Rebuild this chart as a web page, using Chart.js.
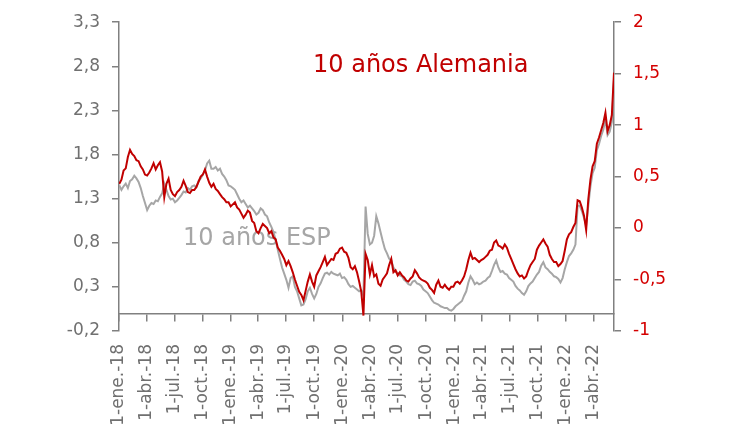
<!DOCTYPE html>
<html>
<head>
<meta charset="utf-8">
<script src="https://cdn.jsdelivr.net/npm/chart.js@4/dist/chart.umd.min.js"></script>
<style>
  body { margin: 0; background: #fff; }
</style>
</head>
<body>
<canvas id="bonosChart" width="731" height="444"></canvas>
<script>
// Rentabilidad del bono a 10 años, un dato por semana desde el 2-ene-2018
var inicio = Date.UTC(2018, 0, 1);
var diaFinal = 1618;

// Alemania (eje derecho)
var ale = [
  0.43, 0.47, 0.56, 0.58, 0.69, 0.76, 0.72, 0.70, 0.66, 0.65,
  0.60, 0.57, 0.52, 0.51, 0.54, 0.58, 0.63, 0.57, 0.61, 0.64,
  0.55, 0.30, 0.43, 0.48, 0.37, 0.33, 0.31, 0.35, 0.37, 0.40,
  0.46, 0.41, 0.35, 0.34, 0.37, 0.37, 0.40, 0.45, 0.50, 0.52,
  0.57, 0.50, 0.44, 0.40, 0.43, 0.38, 0.36, 0.33, 0.30, 0.28,
  0.25, 0.25, 0.21, 0.23, 0.25, 0.20, 0.18, 0.14, 0.10, 0.13,
  0.17, 0.15, 0.07, 0.05, -0.03, -0.05, 0.00, 0.04, 0.02, 0.00,
  -0.05, -0.03, -0.09, -0.11, -0.19, -0.22, -0.26, -0.30, -0.36, -0.32,
  -0.37, -0.43, -0.50, -0.56, -0.62, -0.65, -0.70, -0.61, -0.52, -0.45,
  -0.52, -0.57, -0.46, -0.42, -0.38, -0.33, -0.28, -0.36, -0.33, -0.30,
  -0.31, -0.25, -0.24, -0.20, -0.19, -0.23, -0.24, -0.29, -0.38, -0.40,
  -0.37, -0.43, -0.52, -0.62, -0.85, -0.25, -0.31, -0.45, -0.36, -0.47,
  -0.45, -0.54, -0.56, -0.50, -0.47, -0.44, -0.36, -0.30, -0.43, -0.41,
  -0.46, -0.43, -0.46, -0.48, -0.51, -0.52, -0.49, -0.47, -0.41, -0.44,
  -0.48, -0.50, -0.51, -0.52, -0.54, -0.58, -0.60, -0.63, -0.55, -0.51,
  -0.57, -0.58, -0.55, -0.58, -0.60, -0.57, -0.57, -0.53, -0.52, -0.54,
  -0.51, -0.47, -0.40, -0.31, -0.24, -0.30, -0.29, -0.31, -0.33, -0.31,
  -0.30, -0.28, -0.26, -0.22, -0.21, -0.14, -0.12, -0.17, -0.18, -0.20,
  -0.16, -0.19, -0.25, -0.30, -0.35, -0.40, -0.44, -0.47, -0.46, -0.49,
  -0.47, -0.41, -0.36, -0.33, -0.30, -0.21, -0.17, -0.14, -0.11, -0.15,
  -0.18, -0.26, -0.30, -0.33, -0.33, -0.37, -0.35, -0.32, -0.22, -0.11,
  -0.06, -0.04, 0.01, 0.05, 0.27, 0.26, 0.20, 0.12, -0.02, 0.28,
  0.47, 0.60, 0.65, 0.82, 0.88, 0.95, 1.02, 1.12, 0.94, 1.00,
  1.10, 1.51
];

// España (eje izquierdo)
var esp = [
  1.45, 1.40, 1.44, 1.47, 1.42, 1.50, 1.52, 1.56, 1.53, 1.49,
  1.42, 1.33, 1.25, 1.17, 1.22, 1.25, 1.24, 1.28, 1.27, 1.32,
  1.36, 1.47, 1.40, 1.33, 1.29, 1.30, 1.26, 1.28, 1.31, 1.34,
  1.38, 1.37, 1.42, 1.40, 1.44, 1.45, 1.43, 1.50, 1.53, 1.57,
  1.62, 1.70, 1.73, 1.64, 1.64, 1.66, 1.62, 1.64, 1.58, 1.55,
  1.51, 1.45, 1.44, 1.42, 1.40, 1.35, 1.30, 1.26, 1.28, 1.24,
  1.20, 1.22, 1.19, 1.16, 1.12, 1.14, 1.19, 1.17, 1.12, 1.10,
  1.03, 0.98, 0.92, 0.83, 0.72, 0.62, 0.52, 0.45, 0.38, 0.29,
  0.40, 0.42, 0.30, 0.25, 0.17, 0.09, 0.10, 0.16, 0.25, 0.29,
  0.22, 0.17, 0.22, 0.30, 0.34, 0.40, 0.45, 0.46, 0.44, 0.47,
  0.45, 0.44, 0.43, 0.45, 0.40, 0.41, 0.38, 0.33, 0.30, 0.31,
  0.29, 0.27, 0.25, 0.26, 0.20, 1.21, 0.90, 0.78, 0.80, 0.88,
  1.10, 1.02, 0.92, 0.82, 0.73, 0.68, 0.62, 0.60, 0.52, 0.47,
  0.46, 0.43, 0.42, 0.38, 0.36, 0.33, 0.32, 0.36, 0.37, 0.34,
  0.33, 0.31, 0.27, 0.25, 0.23, 0.19, 0.15, 0.12, 0.11, 0.10,
  0.08, 0.07, 0.06, 0.06, 0.04, 0.03, 0.05, 0.08, 0.10, 0.12,
  0.14, 0.20, 0.25, 0.35, 0.42, 0.38, 0.33, 0.35, 0.33, 0.34,
  0.36, 0.37, 0.40, 0.42, 0.48, 0.55, 0.60, 0.52, 0.47, 0.48,
  0.45, 0.44, 0.40, 0.38, 0.36, 0.31, 0.28, 0.26, 0.23, 0.21,
  0.25, 0.31, 0.34, 0.36, 0.40, 0.44, 0.47, 0.54, 0.58, 0.52,
  0.50, 0.47, 0.45, 0.42, 0.41, 0.39, 0.35, 0.40, 0.50, 0.58,
  0.65, 0.68, 0.72, 0.78, 1.22, 1.22, 1.16, 1.08, 1.00, 1.22,
  1.44, 1.59, 1.65, 1.85, 1.92, 2.01, 2.08, 2.20, 2.02, 2.06,
  2.17, 2.65
];

var etiquetas = [
  '1-ene.-18', '1-abr.-18', '1-jul.-18', '1-oct.-18',
  '1-ene.-19', '1-abr.-19', '1-jul.-19', '1-oct.-19',
  '1-ene.-20', '1-abr.-20', '1-jul.-20', '1-oct.-20',
  '1-ene.-21', '1-abr.-21', '1-jul.-21', '1-oct.-21',
  '1-ene.-22', '1-abr.-22'
];
var ticksIzq = [-0.2, 0.3, 0.8, 1.3, 1.8, 2.3, 2.8, 3.3];
var ticksDer = [-1, -0.5, 0, 0.5, 1, 1.5, 2];

// dias desde 1-ene-2018 de cada etiqueta trimestral
var diasTicks = etiquetas.map(function (e, k) {
  return (Date.UTC(2018 + Math.floor(k / 4), (k % 4) * 3, 1) - inicio) / 86400000;
});

function serie(valores) {
  return valores.map(function (v, i) { return { x: 1 + 7 * i, y: v }; });
}
function coma(v) { return String(v).replace('.', ','); }

var gris = '#808080';
var fuente = { family: 'DejaVu Sans', size: 17 };

var textos = {
  id: 'textos',
  beforeDatasetsDraw: function (chart) {
    var c = chart.ctx;
    c.save();
    c.font = '24px "DejaVu Sans"';
    c.textBaseline = 'middle';
    c.fillStyle = '#c00000';
    c.fillText('10 años Alemania', 313, 66);
    c.fillStyle = '#a6a6a6';
    c.fillText('10 años ESP', 183, 239);
    c.restore();
  }
};

var ctx = document.getElementById('bonosChart').getContext('2d');
new Chart(ctx, {
  type: 'line',
  data: {
    datasets: [{
      label: '10 años Alemania',
      data: serie(ale),
      xAxisID: 'x',
      yAxisID: 'y1',
      borderColor: '#c00000',
      borderWidth: 2,
      pointRadius: 0,
      tension: 0
    }, {
      label: '10 años ESP',
      data: serie(esp),
      xAxisID: 'x',
      yAxisID: 'y',
      borderColor: '#a6a6a6',
      borderWidth: 2,
      pointRadius: 0,
      tension: 0
    }]
  },
  options: {
    responsive: false,
    animation: false,
    devicePixelRatio: 1,
    layout: { padding: { top: 15, left: 0, right: 0, bottom: 0 } },
    plugins: { legend: { display: false }, tooltip: { enabled: false } },
    scales: {
      x: {
        type: 'linear',
        position: 'bottom',
        min: 0,
        max: diaFinal,
        afterBuildTicks: function (s) { s.ticks = diasTicks.map(function (v) { return { value: v }; }); },
        afterFit: function (s) { s.height = 113; },
        grid: { display: false, drawTicks: false },
        border: { display: false },
        ticks: {
          autoSkip: false, maxRotation: 90, minRotation: 90, padding: 13,
          color: '#707070', font: fuente,
          callback: function (v, i) { return etiquetas[i]; }
        }
      },
      eje: {
        type: 'linear',
        axis: 'x',
        position: { y: 0 },
        min: 0,
        max: diaFinal,
        afterBuildTicks: function (s) { s.ticks = diasTicks.map(function (v) { return { value: v }; }); },
        grid: { drawOnChartArea: false, tickLength: 7, color: gris, lineWidth: 1.5 },
        border: { color: gris, width: 1.5 },
        ticks: { display: false }
      },
      y: {
        position: 'left',
        min: -0.2,
        max: 3.3,
        afterBuildTicks: function (s) { s.ticks = ticksIzq.map(function (v) { return { value: v }; }); },
        afterFit: function (s) { s.width = 119; },
        grid: { drawOnChartArea: false, tickLength: 7, color: gris, lineWidth: 1.5 },
        border: { color: gris, width: 1.5 },
        ticks: { padding: 12, color: '#707070', font: fuente, callback: coma }
      },
      y1: {
        position: 'right',
        min: -1,
        max: 2,
        afterBuildTicks: function (s) { s.ticks = ticksDer.map(function (v) { return { value: v }; }); },
        afterFit: function (s) { s.width = 117; },
        grid: { drawOnChartArea: false, tickLength: 7, color: gris, lineWidth: 1.5 },
        border: { color: gris, width: 1.5 },
        ticks: { padding: 12, color: '#d40000', font: fuente, callback: coma }
      }
    }
  },
  plugins: [textos]
});
</script>
</body>
</html>
